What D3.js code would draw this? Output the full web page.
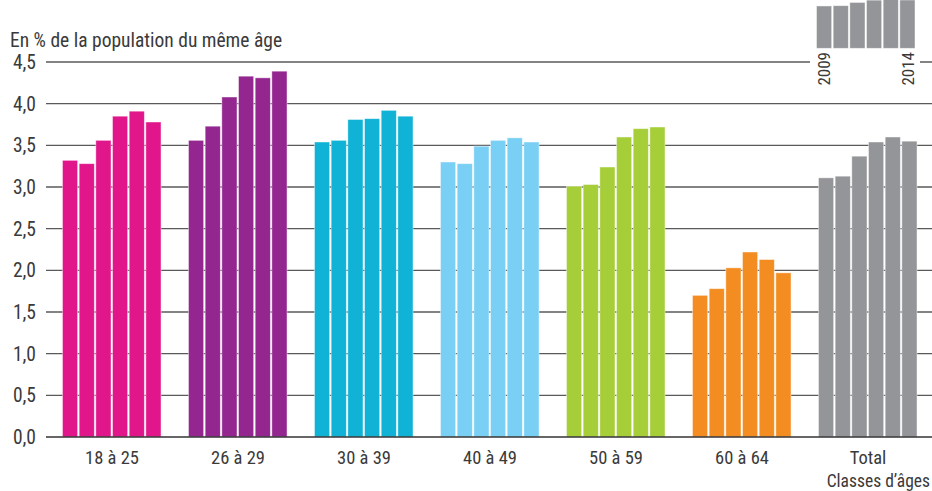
<!DOCTYPE html>
<html lang="fr">
<head>
<meta charset="utf-8">
<script src="https://cdn.jsdelivr.net/npm/d3@7"></script>
<style>
  html, body { margin: 0; padding: 0; background: #fff; }
  svg { display: block; }
  text { font-family: "Liberation Sans Narrow", "Arial Narrow", "Roboto Condensed", sans-serif; fill: #3a3a3a; }
</style>
</head>
<body>
<svg id="chart" width="932" height="491"></svg>
<script>
// Age groups and the years shown for each one
const categories = ["18 à 25", "26 à 29", "30 à 39", "40 à 49", "50 à 59", "60 à 64", "Total"];
const years = ["2009", "2010", "2011", "2012", "2013", "2014"];

// Share of the population of the same age, in %, 2009 → 2014
const values1825 = [3.32, 3.28, 3.56, 3.85, 3.91, 3.78];
const values2629 = [3.56, 3.73, 4.08, 4.33, 4.31, 4.39];
const values3039 = [3.54, 3.56, 3.81, 3.82, 3.92, 3.85];
const values4049 = [3.30, 3.28, 3.49, 3.56, 3.59, 3.54];
const values5059 = [3.01, 3.03, 3.24, 3.60, 3.70, 3.72];
const values6064 = [1.70, 1.78, 2.03, 2.22, 2.13, 1.97];
const valuesTotal = [3.11, 3.13, 3.37, 3.54, 3.60, 3.55];

const yTicks = [0, 0.5, 1, 1.5, 2, 2.5, 3, 3.5, 4, 4.5];
const yTickLabels = ["0,0", "0,5", "1,0", "1,5", "2,0", "2,5", "3,0", "3,5", "4,0", "4,5"];
const legendYears = ["2009", "2014"];

const seriesValues = [values1825, values2629, values3039, values4049, values5059, values6064, valuesTotal];
const colors = ["#e2168b", "#93278f", "#10b2d6", "#7acff5", "#a6ce39", "#f38d22", "#939598"];

const svg = d3.select("#chart");

const x0 = d3.scaleBand().domain(categories).range([49, 931]).paddingInner(0.206).paddingOuter(0.103);
const x1 = d3.scaleBand().domain(years).range([0, x0.bandwidth()]).padding(0);
const y = d3.scaleLinear().domain([0, 4.5]).range([437, 62]);

// Horizontal gridlines
svg.append("g")
  .selectAll("line")
  .data(yTicks.slice(1))
  .join("line")
  .attr("x1", 46).attr("x2", 932)
  .attr("y1", d => y(d)).attr("y2", d => y(d))
  .attr("stroke", "#5a5a5a")
  .attr("stroke-width", 1.3);

// Tick labels
svg.append("g")
  .selectAll("text")
  .data(yTicks)
  .join("text")
  .attr("x", 36)
  .attr("y", d => y(d))
  .attr("dy", "0.36em")
  .attr("text-anchor", "end")
  .attr("font-size", 19.5)
  .text((d, i) => yTickLabels[i]);

// Axis title
svg.append("text")
  .attr("x", 10).attr("y", 47)
  .attr("font-size", 19.5)
  .text("En % de la population du même âge");

// Bars
const groups = svg.append("g")
  .selectAll("g")
  .data(categories)
  .join("g")
  .attr("transform", d => `translate(${x0(d)},0)`);

groups.each(function (cat, gi) {
  d3.select(this).selectAll("rect")
    .data(seriesValues[gi])
    .join("rect")
    .attr("x", (v, i) => x1(years[i]) + 0.5)
    .attr("width", x1.bandwidth() - 1.5)
    .attr("y", v => y(v))
    .attr("height", v => y(0) - y(v))
    .attr("fill", colors[gi])
    .attr("stroke", "rgba(255,255,255,0.55)")
    .attr("stroke-width", 0.8);
});

// Baseline
svg.append("line")
  .attr("x1", 46).attr("x2", 932)
  .attr("y1", y(0)).attr("y2", y(0))
  .attr("stroke", "#333")
  .attr("stroke-width", 1.5);

// Category labels
svg.append("g")
  .selectAll("text")
  .data(categories)
  .join("text")
  .attr("x", d => x0(d) + x0.bandwidth() / 2)
  .attr("y", 464)
  .attr("text-anchor", "middle")
  .attr("font-size", 18.5)
  .text(d => d);

svg.append("text")
  .attr("x", 930).attr("y", 487)
  .attr("text-anchor", "end")
  .attr("font-size", 17.5)
  .text("Classes d’âges");

// Year key: miniature of the total series
const legend = svg.append("g");
legend.append("rect")
  .attr("x", 810).attr("y", 0).attr("width", 110).attr("height", 90)
  .attr("fill", "#fff");

const lx = d3.scaleBand().domain(years).range([816, 916]).padding(0);
const ly = d3.scaleLinear().domain([0, 3.6]).range([48.3, -0.7]);

legend.selectAll("rect.key")
  .data(valuesTotal)
  .join("rect")
  .attr("class", "key")
  .attr("x", (v, i) => lx(years[i]) + 0.5)
  .attr("width", lx.bandwidth() - 1.5)
  .attr("y", v => ly(v))
  .attr("height", v => ly(0) - ly(v))
  .attr("fill", colors[6])
  .attr("stroke", "rgba(255,255,255,0.55)")
  .attr("stroke-width", 0.8);

legend.selectAll("text")
  .data(legendYears)
  .join("text")
  .attr("transform", d => `translate(${lx(d) + lx.bandwidth() / 2},52) rotate(-90)`)
  .attr("dy", "0.35em")
  .attr("text-anchor", "end")
  .attr("font-size", 17)
  .text(d => d);
</script>
</body>
</html>
